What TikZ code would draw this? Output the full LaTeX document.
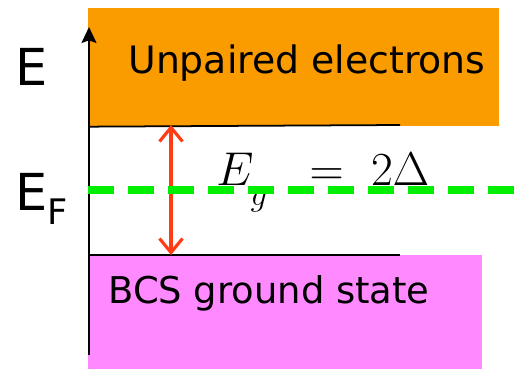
\RequirePackage{fix-cm}
\documentclass[tikz,border=0pt]{standalone}
\usepackage[no-math]{fontspec}
\usepackage{xcolor}
\usetikzlibrary{arrows.meta}
\newfontfamily\handfont{DejaVu Sans}
\definecolor{bandorange}{RGB}{250,155,0}
\definecolor{bandpink}{RGB}{255,138,255}
\definecolor{fermigreen}{RGB}{0,238,0}
\definecolor{gapred}{RGB}{255,60,20}
\tikzset{
  band/.style={rectangle, inner sep=0pt, anchor=north west},
  bandlabel/.style={anchor=base west, inner sep=0pt, font=\handfont},
  axislabel/.style={anchor=base west, inner sep=0pt, font=\handfont\fontsize{29}{32}\selectfont},
  edgeline/.style={line width=1pt},
  axisarrow/.style={-{Stealth[length=0.32cm, width=0.3cm, inset=1.5pt]}, line width=1.1pt},
  gaparrow/.style={{Straight Barb[length=0.28cm, width=0.46cm]}-{Straight Barb[length=0.28cm, width=0.46cm]}, line width=1.8pt, gapred},
  fermiline/.style={fermigreen, line width=4pt, dash pattern=on 0.52cm off 0.28cm},
}
\begin{document}
\begin{tikzpicture}[x=0.02cm, y=-0.02cm]
  \useasboundingbox (0,0) rectangle (516,368);

  % Bands
  \node[band, fill=bandorange, minimum width=8.22cm, minimum height=2.36cm] (upper) at (88,8) {};
  \node[band, fill=bandpink, minimum width=7.88cm, minimum height=2.28cm] (lower) at (88,255) {};

  % Band edges
  \coordinate (uedge) at (400,125);
  \coordinate (ledge) at (400,255);
  \draw[edgeline] (upper.south west) -- (uedge);
  \draw[edgeline] (lower.north west) -- (ledge);

  % Energy axis
  \coordinate (axisbot) at (89,355);
  \coordinate (axistop) at (89,27);
  \draw[axisarrow] (axisbot) -- (axistop);

  % Band labels
  \node[bandlabel, font=\handfont\fontsize{21.5}{24}\selectfont] (unpaired) at (128,73) {Unpaired electrons};
  \node[bandlabel, font=\handfont\fontsize{21}{23}\selectfont] (bcs) at (108,303) {BCS ground state};

  % Gap
  \coordinate (gaptop) at (171,125);
  \coordinate (gapbot) at (171,255);
  \draw[gaparrow] (gaptop) -- (gapbot);
  \node[anchor=base west, inner sep=0pt, font=\fontsize{27}{30}\selectfont] (gap) at (216,185)
    {$E_{\raisebox{-7.5pt}{$\scriptstyle g$}}\hspace{16pt}=\hspace{8pt}2\Delta$};

  % Axis labels
  \node[axislabel] (elabel) at (15,85) {E};
  \node[axislabel] (eflabel) at (15,210) {E\raisebox{-8pt}{\fontsize{20}{22}\selectfont F}};

  % Fermi level
  \coordinate (fermiend) at (516,190);
  \coordinate (fermistart) at (88,190);
  \draw[fermiline] (fermistart) -- (fermiend);
\end{tikzpicture}
\end{document}
